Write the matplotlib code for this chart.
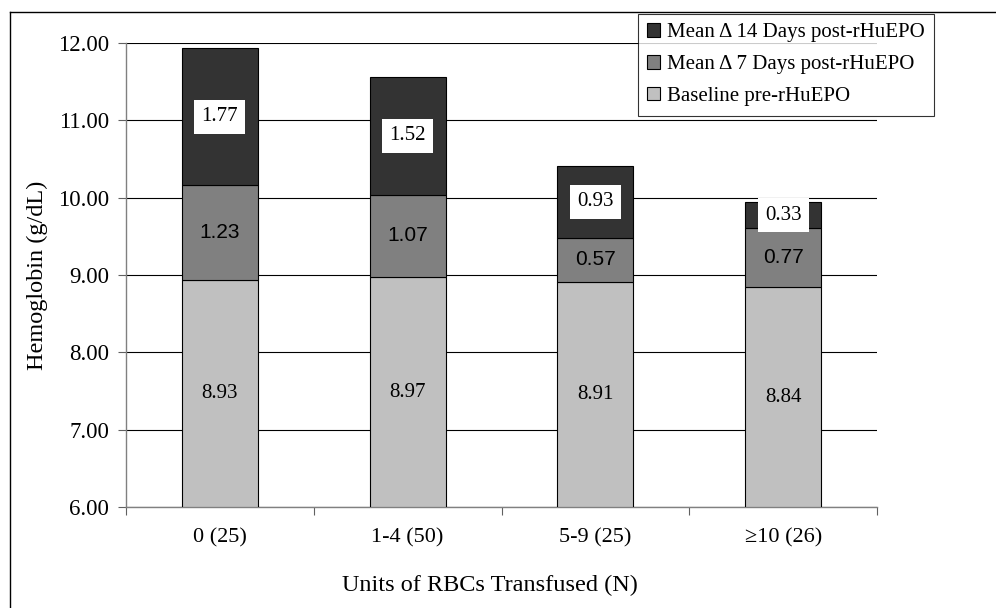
import matplotlib
matplotlib.use("Agg")
from matplotlib import pyplot as plt
from matplotlib.lines import Line2D

categories = ["0 (25)", "1-4 (50)", "5-9 (25)", "\u226510 (26)"]
baseline = [8.93, 8.97, 8.91, 8.84]
delta7 = [1.23, 1.07, 0.57, 0.77]
delta14 = [1.77, 1.52, 0.93, 0.33]

SERIF = ["Liberation Serif", "DejaVu Serif"]
SANS = ["Liberation Sans", "DejaVu Sans"]
plt.rcParams["font.family"] = SERIF

fig = plt.figure(figsize=(9.96, 6.08), dpi=100)
ax = fig.add_axes([126/996, 1-507/608, (877-126)/996, (507-43)/608])

x = list(range(len(categories)))
w = 0.405
top_bottom = [b + d for b, d in zip(baseline, delta7)]
bars1 = ax.bar(x, [b - 6 for b in baseline], w, bottom=6, color="#c0c0c0", edgecolor="black", linewidth=0.8,
               label="Baseline pre-rHuEPO", zorder=3)
bars2 = ax.bar(x, delta7, w, bottom=baseline, color="#808080", edgecolor="black", linewidth=0.8,
               label="Mean \u0394 7 Days post-rHuEPO", zorder=3)
bars3 = ax.bar(x, delta14, w, bottom=top_bottom, color="#333333", edgecolor="black", linewidth=0.8,
               label="Mean \u0394 14 Days post-rHuEPO", zorder=3)

for i in x:
    ax.text(i, (6 + baseline[i]) / 2, f"{baseline[i]:.2f}", ha="center", va="center",
            fontsize=15, family=SERIF, zorder=5)
    ax.text(i, baseline[i] + delta7[i] / 2, f"{delta7[i]:.2f}", ha="center", va="center",
            fontsize=15, family=SANS, zorder=5)
    ax.text(i, top_bottom[i] + delta14[i] / 2, f"{delta14[i]:.2f}", ha="center", va="center",
            fontsize=15, family=SERIF, zorder=5,
            bbox=dict(boxstyle="square,pad=0.35", facecolor="white", edgecolor="none"))

ax.set_ylim(6, 12)
ax.set_xlim(-0.5, 3.5)
ax.set_yticks([6, 7, 8, 9, 10, 11, 12])
ax.set_yticklabels([f"{v:.2f}" for v in range(6, 13)])
ax.yaxis.grid(True, color="black", linewidth=0.8, zorder=0)
ax.set_axisbelow(True)
ax.set_xticks([-0.5, 0.5, 1.5, 2.5, 3.5])
ax.set_xticklabels([])
ax.set_xticks(x, minor=True)
ax.set_xticklabels(categories, minor=True, fontsize=16)
ax.tick_params(axis="x", which="minor", length=0, pad=15)
ax.tick_params(axis="x", which="major", length=6, direction="out", color="#606060")
ax.tick_params(axis="y", length=6, direction="out", color="#606060", labelsize=16.5, pad=6)
for s in ["top", "right"]:
    ax.spines[s].set_visible(False)
for s in ["left", "bottom"]:
    ax.spines[s].set_color("#808080")
    ax.spines[s].set_linewidth(1.0)

fig.text(490/996, 1-585/608, "Units of RBCs Transfused (N)", ha="center", va="center", fontsize=17.5)
fig.text(37/996, 1-275/608, "Hemoglobin (g/dL)", ha="center", va="center", rotation=90, fontsize=17.5)

handles = [bars3, bars2, bars1]
leg = fig.legend(handles, [h.get_label() for h in handles], loc="upper right",
                 bbox_to_anchor=(934/996, 1-14/608), fontsize=15, frameon=True, fancybox=False,
                 edgecolor="black", handlelength=0.6, handleheight=0.6, handletextpad=0.35,
                 labelspacing=0.62, borderpad=0.45, borderaxespad=0.0)
leg.get_frame().set_linewidth(0.8)

fig.add_artist(Line2D([10/996, 10/996], [0, 1-12/608], color="black", linewidth=1.0))
fig.add_artist(Line2D([10/996, 1], [1-12/608, 1-12/608], color="black", linewidth=1.0))

fig.savefig("out.png", dpi=100)
